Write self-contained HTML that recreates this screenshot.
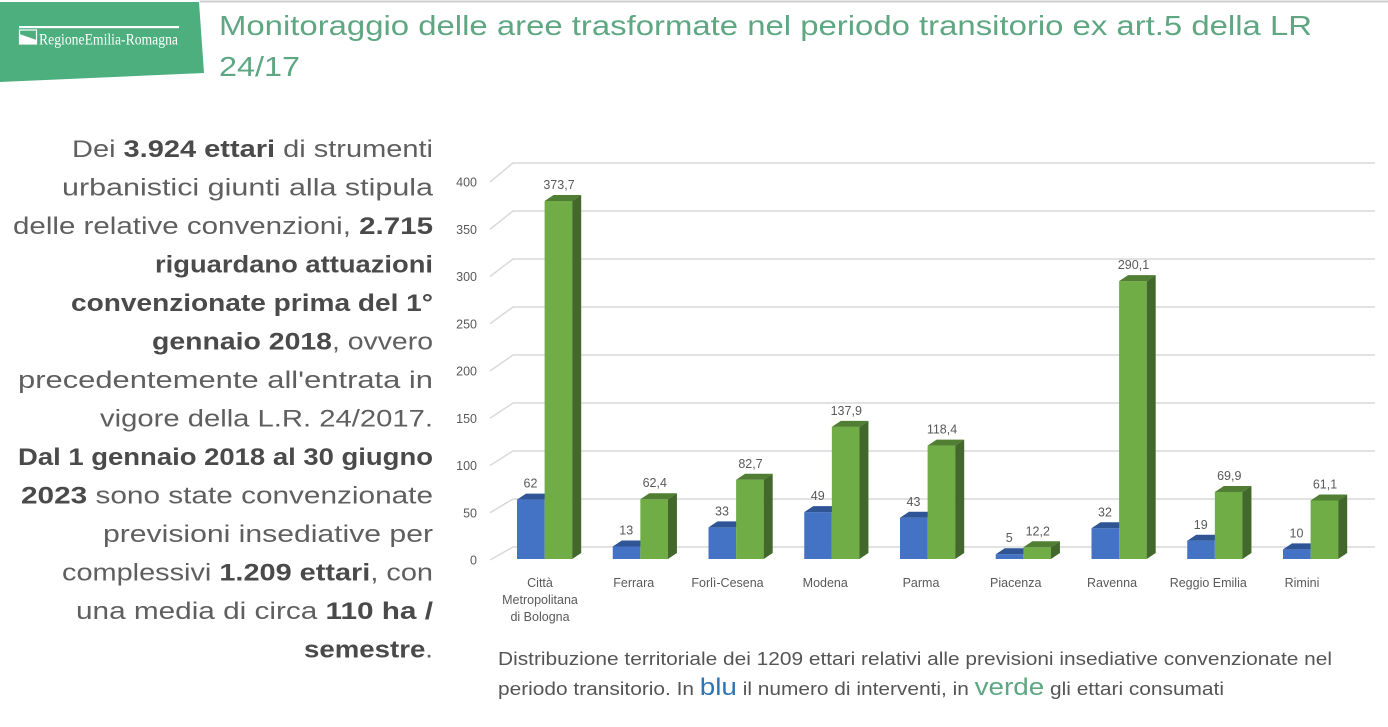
<!DOCTYPE html>
<html>
<head>
<meta charset="utf-8">
<style>
html,body{margin:0;padding:0;background:#fff;}
svg{display:block;}
.t{font-family:"Liberation Sans",sans-serif;}
.ax{font-family:"Liberation Sans",sans-serif;font-size:12.5px;fill:#595959;}
.lt{font-family:"Liberation Sans",sans-serif;font-size:24px;fill:#5f5f5f;}
.lt .b{font-weight:bold;fill:#4a4a4a;}
</style>
</head>
<body>
<svg width="1388" height="727" viewBox="0 0 1388 727" xmlns="http://www.w3.org/2000/svg">
<rect width="1388" height="727" fill="#fff"/>
<!-- top gray line -->
<line x1="200" y1="1.5" x2="1388" y2="1.5" stroke="#cfcfcf" stroke-width="2"/>
<!-- header green block -->
<polygon points="0,2 199,2 204,73 0,82" fill="#4dae7e"/>
<!-- logo -->
<rect x="19" y="26" width="160" height="2.2" fill="#fff"/>
<rect x="19.5" y="30" width="17" height="14" fill="none" stroke="#fff" stroke-width="1.2"/>
<polygon points="19.5,34 36.5,40 36.5,44 19.5,44" fill="#fff"/>
<text x="39" y="44.5" font-family="Liberation Serif,serif" font-size="15.5" fill="#fff" textLength="139" lengthAdjust="spacingAndGlyphs">RegioneEmilia-Romagna</text>
<!-- title -->
<text class="t" x="219" y="35" font-size="28" fill="#5ea782" textLength="1093" lengthAdjust="spacingAndGlyphs">Monitoraggio delle aree trasformate nel periodo transitorio ex art.5 della LR</text>
<text class="t" x="219" y="76" font-size="28" fill="#5ea782" textLength="81" lengthAdjust="spacingAndGlyphs">24/17</text>

<!-- left text -->
<g class="lt">
<text x="72" y="157" textLength="361" lengthAdjust="spacingAndGlyphs">Dei <tspan class="b">3.924 ettari</tspan> di strumenti</text>
<text x="62" y="195.5" textLength="371" lengthAdjust="spacingAndGlyphs">urbanistici giunti alla stipula</text>
<text x="13" y="234" textLength="420" lengthAdjust="spacingAndGlyphs">delle relative convenzioni, <tspan class="b">2.715</tspan></text>
<text x="155" y="272.5" textLength="278" lengthAdjust="spacingAndGlyphs"><tspan class="b">riguardano attuazioni</tspan></text>
<text x="71" y="311" textLength="362" lengthAdjust="spacingAndGlyphs"><tspan class="b">convenzionate prima del 1°</tspan></text>
<text x="152" y="349.5" textLength="281" lengthAdjust="spacingAndGlyphs"><tspan class="b">gennaio 2018</tspan>, ovvero</text>
<text x="18" y="388" textLength="415" lengthAdjust="spacingAndGlyphs">precedentemente all'entrata in</text>
<text x="100" y="426.5" textLength="333" lengthAdjust="spacingAndGlyphs">vigore della L.R. 24/2017.</text>
<text x="18" y="465" textLength="415" lengthAdjust="spacingAndGlyphs"><tspan class="b">Dal 1 gennaio 2018 al 30 giugno</tspan></text>
<text x="21" y="503.5" textLength="412" lengthAdjust="spacingAndGlyphs"><tspan class="b">2023</tspan> sono state convenzionate</text>
<text x="103" y="542" textLength="330" lengthAdjust="spacingAndGlyphs">previsioni insediative per</text>
<text x="62" y="580.5" textLength="371" lengthAdjust="spacingAndGlyphs">complessivi <tspan class="b">1.209 ettari</tspan>, con</text>
<text x="76" y="619" textLength="357" lengthAdjust="spacingAndGlyphs">una media di circa <tspan class="b">110 ha /</tspan></text>
<text x="304" y="657.5" textLength="129" lengthAdjust="spacingAndGlyphs"><tspan class="b">semestre</tspan>.</text>
</g>

<!-- gridlines -->
<g fill="none" stroke="#d9d9d9" stroke-width="1.5">
<polyline points="490,560 513,547 1375,547"/>
<polyline points="490,512.75 513,499 1375,499"/>
<polyline points="490,465.5 513,451 1375,451"/>
<polyline points="490,418.25 513,403 1375,403"/>
<polyline points="490,371 513,355 1375,355"/>
<polyline points="490,323.75 513,307 1375,307"/>
<polyline points="490,276.5 513,259 1375,259"/>
<polyline points="490,229.25 513,211 1375,211"/>
<polyline points="490,182 513,163 1375,163"/>
</g>
<!-- y tick labels -->
<g class="ax" text-anchor="end">
<text x="477" y="564.5">0</text>
<text x="477" y="517.25">50</text>
<text x="477" y="470">100</text>
<text x="477" y="422.75">150</text>
<text x="477" y="375.5">200</text>
<text x="477" y="328.25">250</text>
<text x="477" y="281">300</text>
<text x="477" y="233.75">350</text>
<text x="477" y="186.5">400</text>
</g>

<!-- bars -->
<!-- i0 Città -->
<g transform="translate(517,0)">
<polygon points="0,559 0,499.6 27.6,499.6 27.6,559" fill="#4472c4"/>
<polygon points="0,499.6 9,493.6 36.6,493.6 27.6,499.6" fill="#2f5597"/>
<polygon points="27.6,559 27.6,201 55.2,201 55.2,559" fill="#70ad47"/>
<polygon points="27.6,201 36.6,195 64.2,195 55.2,201" fill="#507e32"/>
<polygon points="55.2,201 64.2,195 64.2,553 55.2,559" fill="#43682b"/>
<text class="ax" x="13.5" y="487.6" text-anchor="middle">62</text>
<text class="ax" x="42" y="189" text-anchor="middle">373,7</text>
<text class="ax" x="23" y="587" text-anchor="middle">Città</text>
<text class="ax" x="23" y="604" text-anchor="middle">Metropolitana</text>
<text class="ax" x="23" y="621" text-anchor="middle">di Bologna</text>
</g>
<!-- i1 Ferrara -->
<g transform="translate(612.75,0)">
<polygon points="0,559 0,546.5 27.6,546.5 27.6,559" fill="#4472c4"/>
<polygon points="0,546.5 9,540.5 36.6,540.5 27.6,546.5" fill="#2f5597"/>
<polygon points="27.6,559 27.6,499.2 55.2,499.2 55.2,559" fill="#70ad47"/>
<polygon points="27.6,499.2 36.6,493.2 64.2,493.2 55.2,499.2" fill="#507e32"/>
<polygon points="55.2,499.2 64.2,493.2 64.2,553 55.2,559" fill="#43682b"/>
<text class="ax" x="13.5" y="534.5" text-anchor="middle">13</text>
<text class="ax" x="42" y="487.2" text-anchor="middle">62,4</text>
<text class="ax" x="21" y="587" text-anchor="middle">Ferrara</text>
</g>
<!-- i2 Forlì-Cesena -->
<g transform="translate(708.5,0)">
<polygon points="0,559 0,527.4 27.6,527.4 27.6,559" fill="#4472c4"/>
<polygon points="0,527.4 9,521.4 36.6,521.4 27.6,527.4" fill="#2f5597"/>
<polygon points="27.6,559 27.6,479.8 55.2,479.8 55.2,559" fill="#70ad47"/>
<polygon points="27.6,479.8 36.6,473.8 64.2,473.8 55.2,479.8" fill="#507e32"/>
<polygon points="55.2,479.8 64.2,473.8 64.2,553 55.2,559" fill="#43682b"/>
<text class="ax" x="13.5" y="515.4" text-anchor="middle">33</text>
<text class="ax" x="42" y="467.8" text-anchor="middle">82,7</text>
<text class="ax" x="19" y="587" text-anchor="middle">Forlì-Cesena</text>
</g>
<!-- i3 Modena -->
<g transform="translate(804.25,0)">
<polygon points="0,559 0,512.1 27.6,512.1 27.6,559" fill="#4472c4"/>
<polygon points="0,512.1 9,506.1 36.6,506.1 27.6,512.1" fill="#2f5597"/>
<polygon points="27.6,559 27.6,426.9 55.2,426.9 55.2,559" fill="#70ad47"/>
<polygon points="27.6,426.9 36.6,420.9 64.2,420.9 55.2,426.9" fill="#507e32"/>
<polygon points="55.2,426.9 64.2,420.9 64.2,553 55.2,559" fill="#43682b"/>
<text class="ax" x="13.5" y="500.1" text-anchor="middle">49</text>
<text class="ax" x="42" y="414.9" text-anchor="middle">137,9</text>
<text class="ax" x="21" y="587" text-anchor="middle">Modena</text>
</g>
<!-- i4 Parma -->
<g transform="translate(900,0)">
<polygon points="0,559 0,517.8 27.6,517.8 27.6,559" fill="#4472c4"/>
<polygon points="0,517.8 9,511.8 36.6,511.8 27.6,517.8" fill="#2f5597"/>
<polygon points="27.6,559 27.6,445.6 55.2,445.6 55.2,559" fill="#70ad47"/>
<polygon points="27.6,445.6 36.6,439.6 64.2,439.6 55.2,445.6" fill="#507e32"/>
<polygon points="55.2,445.6 64.2,439.6 64.2,553 55.2,559" fill="#43682b"/>
<text class="ax" x="13.5" y="505.8" text-anchor="middle">43</text>
<text class="ax" x="42" y="433.6" text-anchor="middle">118,4</text>
<text class="ax" x="21" y="587" text-anchor="middle">Parma</text>
</g>
<!-- i5 Piacenza -->
<g transform="translate(995.75,0)">
<polygon points="0,559 0,554.2 27.6,554.2 27.6,559" fill="#4472c4"/>
<polygon points="0,554.2 9,548.2 36.6,548.2 27.6,554.2" fill="#2f5597"/>
<polygon points="27.6,559 27.6,547.3 55.2,547.3 55.2,559" fill="#70ad47"/>
<polygon points="27.6,547.3 36.6,541.3 64.2,541.3 55.2,547.3" fill="#507e32"/>
<polygon points="55.2,547.3 64.2,541.3 64.2,553 55.2,559" fill="#43682b"/>
<text class="ax" x="13.5" y="542.2" text-anchor="middle">5</text>
<text class="ax" x="42" y="535.3" text-anchor="middle">12,2</text>
<text class="ax" x="20" y="587" text-anchor="middle">Piacenza</text>
</g>
<!-- i6 Ravenna -->
<g transform="translate(1091.5,0)">
<polygon points="0,559 0,528.3 27.6,528.3 27.6,559" fill="#4472c4"/>
<polygon points="0,528.3 9,522.3 36.6,522.3 27.6,528.3" fill="#2f5597"/>
<polygon points="27.6,559 27.6,281.1 55.2,281.1 55.2,559" fill="#70ad47"/>
<polygon points="27.6,281.1 36.6,275.1 64.2,275.1 55.2,281.1" fill="#507e32"/>
<polygon points="55.2,281.1 64.2,275.1 64.2,553 55.2,559" fill="#43682b"/>
<text class="ax" x="13.5" y="516.3" text-anchor="middle">32</text>
<text class="ax" x="42" y="269.1" text-anchor="middle">290,1</text>
<text class="ax" x="20.5" y="587" text-anchor="middle">Ravenna</text>
</g>
<!-- i7 Reggio Emilia -->
<g transform="translate(1187.25,0)">
<polygon points="0,559 0,540.8 27.6,540.8 27.6,559" fill="#4472c4"/>
<polygon points="0,540.8 9,534.8 36.6,534.8 27.6,540.8" fill="#2f5597"/>
<polygon points="27.6,559 27.6,492 55.2,492 55.2,559" fill="#70ad47"/>
<polygon points="27.6,492 36.6,486 64.2,486 55.2,492" fill="#507e32"/>
<polygon points="55.2,492 64.2,486 64.2,553 55.2,559" fill="#43682b"/>
<text class="ax" x="13.5" y="528.8" text-anchor="middle">19</text>
<text class="ax" x="42" y="480" text-anchor="middle">69,9</text>
<text class="ax" x="21" y="587" text-anchor="middle">Reggio Emilia</text>
</g>
<!-- i8 Rimini -->
<g transform="translate(1283,0)">
<polygon points="0,559 0,549.4 27.6,549.4 27.6,559" fill="#4472c4"/>
<polygon points="0,549.4 9,543.4 36.6,543.4 27.6,549.4" fill="#2f5597"/>
<polygon points="27.6,559 27.6,500.5 55.2,500.5 55.2,559" fill="#70ad47"/>
<polygon points="27.6,500.5 36.6,494.5 64.2,494.5 55.2,500.5" fill="#507e32"/>
<polygon points="55.2,500.5 64.2,494.5 64.2,553 55.2,559" fill="#43682b"/>
<text class="ax" x="13.5" y="537.4" text-anchor="middle">10</text>
<text class="ax" x="42" y="488.5" text-anchor="middle">61,1</text>
<text class="ax" x="19" y="587" text-anchor="middle">Rimini</text>
</g>

<!-- caption -->
<text class="t" x="498" y="665" font-size="18" fill="#555" textLength="834" lengthAdjust="spacingAndGlyphs">Distribuzione territoriale dei 1209 ettari relativi alle previsioni insediative convenzionate nel</text>
<text class="t" x="498" y="695" font-size="18" fill="#555" textLength="726" lengthAdjust="spacingAndGlyphs">periodo transitorio. In <tspan font-size="24" fill="#2e75b6">blu</tspan> il numero di interventi, in <tspan font-size="24" fill="#5ea782">verde</tspan> gli ettari consumati</text>
</svg>
</body>
</html>
